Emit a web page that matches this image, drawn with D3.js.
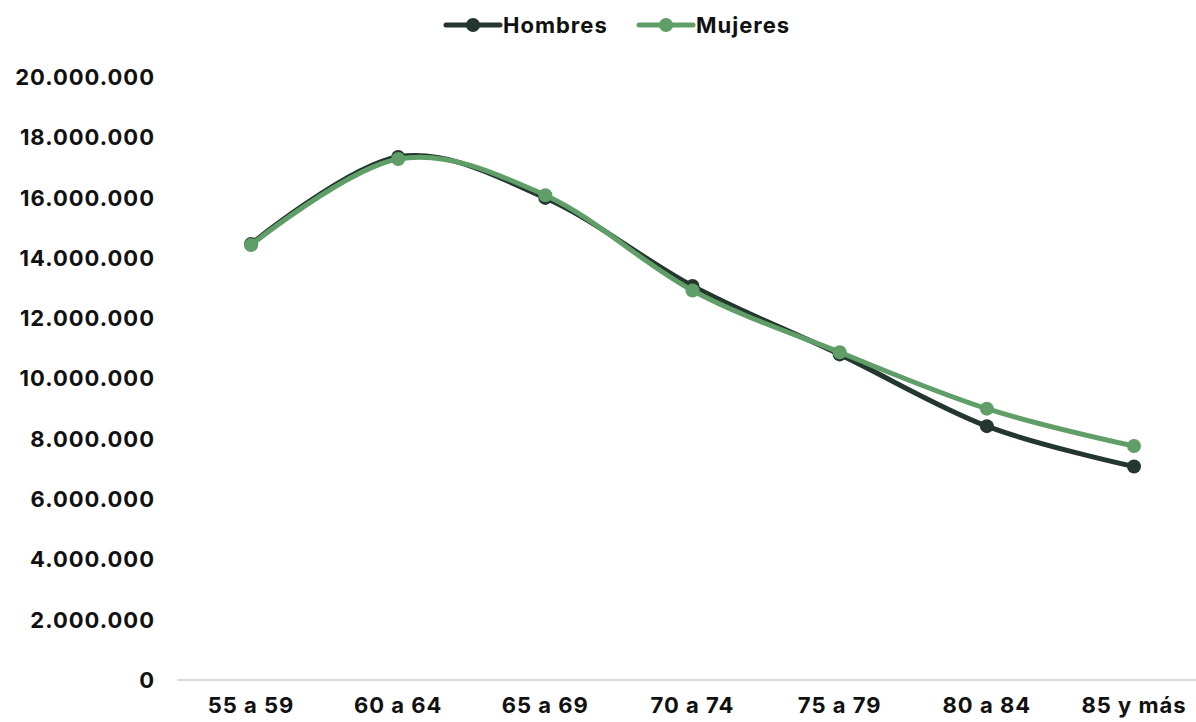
<!DOCTYPE html>
<html><head><meta charset="utf-8">
<script src="https://cdn.jsdelivr.net/npm/d3@7"></script>
<style>body{margin:0;background:#fff}svg{display:block;font-family:Inter,"Noto Sans",sans-serif;font-weight:700}text{letter-spacing:1px}</style>
</head><body><svg id="c" width="1196" height="722"></svg>
<script>
const categories = ["55 a 59","60 a 64","65 a 69","70 a 74","75 a 79","80 a 84","85 y más"];
const hombres = [14460000,17350000,15990000,13070000,10800000,8420000,7080000];
const mujeres = [14430000,17280000,16080000,12920000,10870000,9000000,7760000];
const seriesNames = ["Hombres","Mujeres"];
const yTicks = [0,2000000,4000000,6000000,8000000,10000000,12000000,14000000,16000000,18000000,20000000];
const colors = ["#233630","#5f9e66"];

const svg = d3.select("#c");
const x = d3.scalePoint().domain(categories).range([251,1134]);
const y = d3.scaleLinear().domain([0,20000000]).range([680,77]);
const fmt = v => d3.format(",")(v).replace(/,/g,".");

svg.append("line").attr("x1",177).attr("x2",1196).attr("y1",y(0)).attr("y2",y(0))
  .attr("stroke","#d9d9d9").attr("stroke-width",2);

svg.append("g").selectAll("text").data(yTicks).join("text")
  .attr("x",155).attr("y",d=>y(d)).attr("dy","0.36em").attr("text-anchor","end")
  .attr("font-size",22).attr("fill","#111").text(fmt);

svg.append("g").selectAll("text").data(categories).join("text")
  .attr("x",d=>x(d)).attr("y",713).attr("text-anchor","middle")
  .attr("font-size",22).attr("fill","#111").text(d=>d);

const line = d3.line().x((d,i)=>x(categories[i])).y(d=>y(d)).curve(d3.curveCardinal.tension(0));
[hombres,mujeres].forEach((s,k)=>{
  svg.append("path").attr("d",line(s)).attr("fill","none").attr("stroke",colors[k])
    .attr("stroke-width",5).attr("stroke-linecap","round");
  svg.append("g").selectAll("circle").data(s).join("circle")
    .attr("cx",(d,i)=>x(categories[i])).attr("cy",d=>y(d)).attr("r",7).attr("fill",colors[k]);
});

const leg = [{x:446},{x:639}];
seriesNames.forEach((n,k)=>{
  const g = svg.append("g").attr("transform",`translate(${leg[k].x},25)`);
  g.append("line").attr("x1",0).attr("x2",54).attr("stroke",colors[k]).attr("stroke-width",5).attr("stroke-linecap","round");
  g.append("circle").attr("cx",27).attr("r",7).attr("fill",colors[k]);
  g.append("text").attr("x",57).attr("dy","0.36em").attr("font-size",22).attr("fill","#111").text(n);
});
</script></body></html>
